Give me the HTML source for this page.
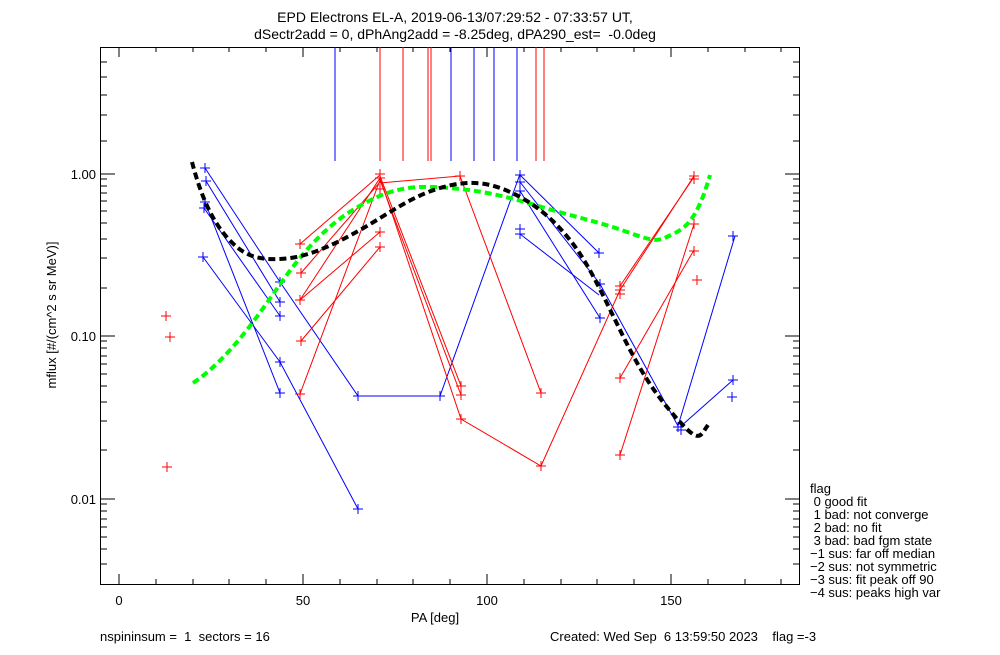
<!DOCTYPE html>
<html><head><meta charset="utf-8"><style>
html,body{margin:0;padding:0;background:#fff}
svg text{font-family:"Liberation Sans",sans-serif;font-size:13px;fill:#000;white-space:pre}
</style></head><body>
<svg width="1000" height="650" viewBox="0 0 1000 650" xmlns="http://www.w3.org/2000/svg" xml:space="preserve">
<rect width="1000" height="650" fill="#fff"/>
<text x="455" y="22" text-anchor="middle" style="font-size:14px">EPD Electrons EL-A, 2019-06-13/07:29:52 - 07:33:57 UT,</text>
<text x="455" y="39" text-anchor="middle" style="font-size:14px">dSectr2add = 0, dPhAng2add = -8.25deg, dPA290_est=  -0.0deg</text>
<rect x="100.5" y="47.5" width="699" height="537" fill="none" stroke="#000" stroke-width="1"/>
<g stroke="#000" stroke-width="1">
<path d="M119,584v-10M303,584v-10M487,584v-10M671,584v-10M119,47v10M303,47v10M487,47v10M671,47v10"/>
<path d="M156,584v-5M193,584v-5M229,584v-5M266,584v-5M340,584v-5M377,584v-5M413,584v-5M450,584v-5M524,584v-5M561,584v-5M597,584v-5M634,584v-5M708,584v-5M745,584v-5M781,584v-5
M156,47v5M193,47v5M229,47v5M266,47v5M340,47v5M377,47v5M413,47v5M450,47v5M524,47v5M561,47v5M597,47v5M634,47v5M708,47v5M745,47v5M781,47v5"/>
<path d="M100,174h15M100,336h15M100,499h15M800,174h-15M800,336h-15M800,499h-15"/>
<path d="M100,62h7M100,77h7M100,95h7M100,115h7M100,141h7M100,179h7M100,186h7M100,193h7M100,201h7M100,211h7M100,223h7M100,239h7M100,258h7M100,288h7M100,341h7M100,348h7M100,356h7M100,364h7M100,374h7M100,386h7M100,402h7M100,421h7M100,450h7M100,504h7M100,511h7M100,519h7M100,527h7M100,537h7M100,549h7M100,564h7
M800,62h-7M800,77h-7M800,95h-7M800,115h-7M800,141h-7M800,179h-7M800,186h-7M800,193h-7M800,201h-7M800,211h-7M800,223h-7M800,239h-7M800,258h-7M800,288h-7M800,341h-7M800,348h-7M800,356h-7M800,364h-7M800,374h-7M800,386h-7M800,402h-7M800,421h-7M800,450h-7M800,504h-7M800,511h-7M800,519h-7M800,527h-7M800,537h-7M800,549h-7M800,564h-7"/>
</g>
<text x="96" y="179" text-anchor="end">1.00</text>
<text x="96" y="341" text-anchor="end">0.10</text>
<text x="96" y="504" text-anchor="end">0.01</text>
<text x="119" y="605" text-anchor="middle">0</text>
<text x="303" y="605" text-anchor="middle">50</text>
<text x="487" y="605" text-anchor="middle">100</text>
<text x="671" y="605" text-anchor="middle">150</text>
<text x="435" y="622" text-anchor="middle">PA [deg]</text>
<text transform="translate(56,315) rotate(-90)" text-anchor="middle">mflux [#/(cm^2 s sr MeV)]</text>
<text x="100" y="641">nspininsum =  1  sectors = 16</text>
<text x="550" y="641">Created: Wed Sep  6 13:59:50 2023    flag =-3</text>
<g style="font-size:12.5px">
<text x="810" y="493">flag</text>
<text x="810" y="506"> 0 good fit</text>
<text x="810" y="519"> 1 bad: not converge</text>
<text x="810" y="532"> 2 bad: no fit</text>
<text x="810" y="545"> 3 bad: bad fgm state</text>
<text x="810" y="558">−1 sus: far off median</text>
<text x="810" y="571">−2 sus: not symmetric</text>
<text x="810" y="584">−3 sus: fit peak off 90</text>
<text x="810" y="597">−4 sus: peaks high var</text>
</g>
<g stroke-width="1">
<path stroke="#00f" d="M335,47V161M451,47V161M474,47V161M494,47V161M517,47V161"/>
<path stroke="#f00" d="M380,47V161M403,47V161M428,47V161M431,47V161M536,47V161M544,47V161"/>
</g>
<g fill="none" stroke="#00f" stroke-width="1">
<polyline points="205,168 280,282 358,396 440,396 520,174"/>
<polyline points="206,181 280,302"/>
<polyline points="204,208 280,316"/>
<polyline points="205,202 280,393"/>
<polyline points="203,257 280,362 358,509"/>
<polyline points="520,175 599,253"/>
<polyline points="520,182 600,284 678,426 735,236"/>
<polyline points="520,191 600,318"/>
<polyline points="520,234 599,295"/>
<polyline points="680,427 733,380"/>
</g>
<g fill="none" stroke="#f00" stroke-width="1">
<polyline points="300,244 380,175"/>
<polyline points="301,273 380,182"/>
<polyline points="300,300 380,178"/>
<polyline points="300,300 380,232"/>
<polyline points="301,341 380,247"/>
<polyline points="300,394 380,180"/>
<polyline points="380,176 461,386"/>
<polyline points="380,180 461,395"/>
<polyline points="380,183 460,176 541,393"/>
<polyline points="380,178 461,419 541,466 620,290 694,176"/>
<polyline points="620,455 694,224"/>
<polyline points="620,378 694,250"/>
<polyline points="620,286 694,177"/>
</g>
<g stroke="#00f" stroke-width="1" fill="none">
<path d="M200,168h10M205,163v10 M201,181h10M206,176v10 M200,202h10M205,197v10 M199,208h10M204,203v10 M198,257h10M203,252v10
M275,282h10M280,277v10 M275,302h10M280,297v10 M275,316h10M280,311v10 M275,362h10M280,357v10 M275,393h10M280,388v10
M353,396h10M358,391v10 M353,509h10M358,504v10 M435,396h10M440,391v10
M515,175h10M520,170v10 M515,182h10M520,177v10 M515,191h10M520,186v10 M515,229h10M520,224v10 M515,234h10M520,229v10
M594,253h10M599,248v10 M595,284h10M600,279v10 M595,318h10M600,313v10
M673,427h10M678,422v10 M676,430h10M681,425v10 M728,236h10M733,231v10 M728,380h10M733,375v10 M727,397h10M732,392v10"/>
</g>
<g stroke="#f00" stroke-width="1" fill="none">
<path d="M161,316h10M166,311v10 M165,337h10M170,332v10 M162,467h10M167,462v10
M295,244h10M300,239v10 M296,273h10M301,268v10 M295,300h10M300,295v10 M296,341h10M301,336v10 M295,394h10M300,389v10
M375,174h10M380,169v10 M375,178h10M380,173v10 M375,189h10M380,184v10 M375,232h10M380,227v10 M375,247h10M380,242v10
M455,176h10M460,171v10 M456,386h10M461,381v10 M456,395h10M461,390v10 M456,419h10M461,414v10
M536,393h10M541,388v10 M536,466h10M541,461v10
M615,286h10M620,281v10 M615,290h10M620,285v10 M615,294h10M620,289v10 M615,378h10M620,373v10 M615,455h10M620,450v10
M689,176h10M694,171v10 M689,179h10M694,174v10 M689,224h10M694,219v10 M689,251h10M694,246v10 M692,280h10M697,275v10"/>
</g>
<path fill="none" stroke="#0f0" stroke-width="4" stroke-dasharray="7,4" d="M193,383 C210,372 230,352 250,326 S285,275 305,252 S345,212 375,198 S430,186 460,189 S515,199 545,208 S600,222 630,233 S660,240 675,233 S700,210 710,175"/>
<path fill="none" stroke="#000" stroke-width="4" stroke-dasharray="7,4" d="M192,162 C198,185 208,215 225,235 S255,260 280,259 S330,247 360,230 S410,197 440,188 S490,183 510,192 S550,215 570,240 S605,300 625,340 S660,400 680,422 S700,436 708,425"/>
</svg>
</body></html>
